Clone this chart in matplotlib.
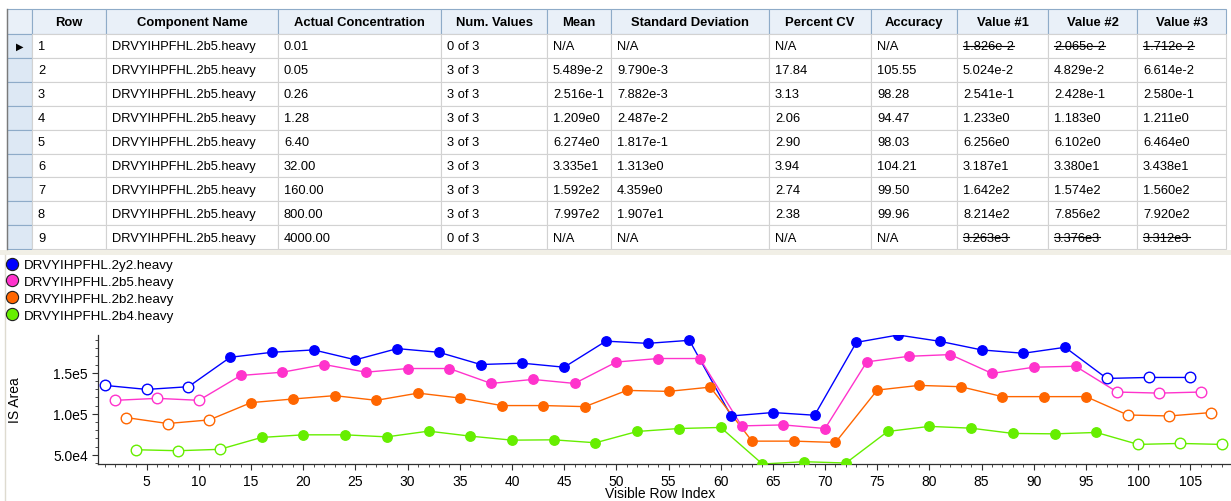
import numpy as np
import matplotlib.pyplot as plt
from matplotlib.patches import Rectangle
from matplotlib.lines import Line2D

plt.rcParams['font.family'] = ['Liberation Sans', 'DejaVu Sans']

# ---- table contents ----
columns = ['Row', 'Component Name', 'Actual Concentration', 'Num. Values', 'Mean',
           'Standard Deviation', 'Percent CV', 'Accuracy', 'Value #1', 'Value #2', 'Value #3']
row_ids = ['1', '2', '3', '4', '5', '6', '7', '8', '9']
component = ['DRVYIHPFHL.2b5.heavy'] * 9
concentration = ['0.01', '0.05', '0.26', '1.28', '6.40', '32.00', '160.00', '800.00', '4000.00']
num_values = ['0 of 3', '3 of 3', '3 of 3', '3 of 3', '3 of 3', '3 of 3', '3 of 3', '3 of 3', '0 of 3']
mean = ['N/A', '5.489e-2', '2.516e-1', '1.209e0', '6.274e0', '3.335e1', '1.592e2', '7.997e2', 'N/A']
std_dev = ['N/A', '9.790e-3', '7.882e-3', '2.487e-2', '1.817e-1', '1.313e0', '4.359e0', '1.907e1', 'N/A']
percent_cv = ['N/A', '17.84', '3.13', '2.06', '2.90', '3.94', '2.74', '2.38', 'N/A']
accuracy = ['N/A', '105.55', '98.28', '94.47', '98.03', '104.21', '99.50', '99.96', 'N/A']
value1 = ['1.826e-2', '5.024e-2', '2.541e-1', '1.233e0', '6.256e0', '3.187e1', '1.642e2', '8.214e2', '3.263e3']
value2 = ['2.065e-2', '4.829e-2', '2.428e-1', '1.183e0', '6.102e0', '3.380e1', '1.574e2', '7.856e2', '3.376e3']
value3 = ['1.712e-2', '6.614e-2', '2.580e-1', '1.211e0', '6.464e0', '3.438e1', '1.560e2', '7.920e2', '3.312e3']

# ---- chart data: IS area per transition, 9 levels x 3 replicates ----
series_names = ['DRVYIHPFHL.2y2.heavy', 'DRVYIHPFHL.2b5.heavy',
                'DRVYIHPFHL.2b2.heavy', 'DRVYIHPFHL.2b4.heavy']
series_colors = ['#0000ff', '#ff33cc', '#ff6600', '#66ee00']
area_2y2 = [134.6, 129.7, 133.0, 168.9, 175.0, 177.9, 165.8, 179.5, 175.0,
            160.1, 161.7, 156.8, 188.6, 185.9, 189.6, 97.3, 101.5, 98.2,
            187.1, 196.1, 188.4, 177.9, 173.8, 181.1, 143.1, 144.3, 144.3]
area_2b5 = [116.4, 118.8, 116.4, 146.7, 150.7, 160.1, 150.7, 155.2, 155.2,
            137.0, 141.9, 137.0, 163.1, 167.4, 167.4, 85.2, 86.4, 82.0,
            163.3, 170.1, 172.2, 149.2, 156.8, 158.0, 126.5, 125.2, 126.5]
area_2b2 = [95.4, 88.1, 92.5, 113.6, 118.0, 122.1, 116.4, 125.2, 119.2,
            110.0, 110.0, 108.7, 128.5, 127.3, 132.5, 66.6, 66.6, 65.0,
            128.9, 134.6, 133.0, 120.9, 120.9, 120.9, 98.5, 97.3, 101.5]
area_2b4 = [56.1, 54.9, 56.6, 71.1, 74.3, 74.3, 71.8, 78.8, 72.7,
            67.8, 68.2, 64.6, 78.4, 82.0, 83.3, 38.7, 41.5, 39.9,
            78.4, 84.6, 82.4, 76.0, 75.5, 77.2, 62.6, 63.8, 62.6]
y_ticks = [5e4, 1e5, 1.5e5]
y_tick_labels = ['5.0e4', '1.0e5', '1.5e5']
x_ticks = [5, 10, 15, 20, 25, 30, 35, 40, 45, 50, 55, 60, 65, 70, 75, 80, 85, 90, 95, 100, 105]

W, H = 1231, 502
fig = plt.figure(figsize=(W / 100, H / 100), dpi=100)

# overlay in pixel coordinates for the grid control
tab = fig.add_axes([0, 0, 1, 1])
tab.set_xlim(0, W)
tab.set_ylim(H, 0)
tab.axis('off')

col_edges = [7, 32, 106, 278, 441, 547, 611, 769, 871, 957, 1048, 1137, 1226]
head_top, head_bot = 10, 35
row_h = 23.9
fs = 9.3
pad = 6

# header row
tab.add_patch(Rectangle((col_edges[0], head_top), col_edges[1] - col_edges[0], head_bot - head_top,
                        facecolor='#e9f0f8', edgecolor='#8eabc8', lw=0.8))
for j, name in enumerate(columns):
    x0, x1 = col_edges[j + 1], col_edges[j + 2]
    tab.add_patch(Rectangle((x0, head_top), x1 - x0, head_bot - head_top,
                            facecolor='#e9f0f8', edgecolor='#8eabc8', lw=0.8))
    tab.text((x0 + x1) / 2, (head_top + head_bot) / 2 + 0.5, name, ha='center', va='center',
             fontsize=9.4, fontweight='bold', color='black')

table_cols = [row_ids, component, concentration, num_values, mean, std_dev,
              percent_cv, accuracy, value1, value2, value3]
excluded_level = [nv.startswith('0 of') for nv in num_values]
strike = []
for i in range(len(row_ids)):
    y0 = head_bot + i * row_h
    tab.add_patch(Rectangle((col_edges[0], y0), col_edges[1] - col_edges[0], row_h,
                            facecolor='#dde8f4', edgecolor='#8eabc8', lw=0.8))
    if i == 0:
        tab.text((col_edges[0] + col_edges[1]) / 2, y0 + row_h / 2, '\u25b6', ha='center',
                 va='center', fontsize=7, family='DejaVu Sans', color='black')
    for j, col in enumerate(table_cols):
        x0, x1 = col_edges[j + 1], col_edges[j + 2]
        tab.add_patch(Rectangle((x0, y0), x1 - x0, row_h,
                                facecolor='white', edgecolor='#d2d2d2', lw=0.8))
        t = tab.text(x0 + pad, y0 + row_h / 2 + 0.5, col[i], ha='left', va='center',
                     fontsize=fs, color='black')
        if excluded_level[i] and j >= 8:
            strike.append(t)

table_bottom = head_bot + len(row_ids) * row_h
tab.plot([col_edges[0], col_edges[0]], [head_top, table_bottom], color='#7a7a7a', lw=1)

# separator strip and chart panel border
tab.add_patch(Rectangle((0, table_bottom + 1), W, 5, facecolor='#f1efe6', edgecolor='none'))
tab.plot([5, 5], [table_bottom + 6, H], color='#dedbd0', lw=1)

# ---- chart ----
ax_l, ax_r, ax_t, ax_b = 97.7, W, 336, 465
ax = fig.add_axes([ax_l / W, 1 - ax_b / H, (ax_r - ax_l) / W, (ax_b - ax_t) / H])
areas = [area_2y2, area_2b5, area_2b2, area_2b4]
handles = []
for k, (vals, color, name) in enumerate(zip(areas, series_colors, series_names)):
    vals = np.array(vals) * 1e3
    x = np.arange(k + 1, k + 1 + 4 * len(vals), 4)
    open_pt = np.array([excluded_level[i // 3] for i in range(len(vals))])
    ax.plot(x, vals, color=color, lw=1, zorder=2)
    ax.plot(x[~open_pt], vals[~open_pt], 'o', color=color, ms=6.8, mec=color, zorder=3)
    ax.plot(x[open_pt], vals[open_pt], 'o', mfc='white', mec=color, ms=7.6, mew=1, zorder=3)
    handles.append(Line2D([], [], marker='o', ls='none', mfc=color, mec='#202020',
                          ms=8.8, mew=0.8))

all_vals = np.concatenate(areas) * 1e3
ax.set_ylim(all_vals.min(), all_vals.max())
ax.set_xlim(0.3, 108.9)
ax.set_yticks(y_ticks, y_tick_labels)
ax.set_xticks(x_ticks)
ax.set_xticks(np.arange(1, 109), minor=True)
ax.set_yticks(np.arange(40000, 200000, 10000), minor=True)
ax.tick_params(which='major', direction='out', length=4, width=0.8, labelsize=10, pad=3, color='#303030')
ax.tick_params(which='minor', direction='out', length=2, width=0.6, color='#303030')
for s in ['top', 'right']:
    ax.spines[s].set_visible(False)
for s in ['left', 'bottom']:
    ax.spines[s].set_linewidth(0.9)
    ax.spines[s].set_color('#303030')
ax.set_facecolor('none')
ax.set_ylabel('IS Area', fontsize=10)
ax.yaxis.set_label_coords((22 - ax_l) / (ax_r - ax_l), (ax_b - 400) / (ax_b - ax_t))
ax.set_xlabel('Visible Row Index', fontsize=10)
ax.xaxis.set_label_coords((660 - ax_l) / (ax_r - ax_l), (ax_b - 487) / (ax_b - ax_t))

fig.legend(handles, series_names, loc='upper left', bbox_to_anchor=(6 / W, 1 - 260 / H),
           frameon=False, fontsize=9.6, handlelength=0.9, handletextpad=0.45,
           labelspacing=0.33, borderpad=0, borderaxespad=0)

# strike-through for excluded replicate values
fig.canvas.draw()
inv = tab.transData.inverted()
for t in strike:
    bb = t.get_window_extent()
    (xa, ya), (xb, yb) = inv.transform([[bb.x0, bb.y0], [bb.x1, bb.y1]])
    ym = (ya + yb) / 2 - 0.5
    tab.plot([xa, xb], [ym, ym], color='black', lw=0.8)

fig.savefig('out.png', dpi=100)
